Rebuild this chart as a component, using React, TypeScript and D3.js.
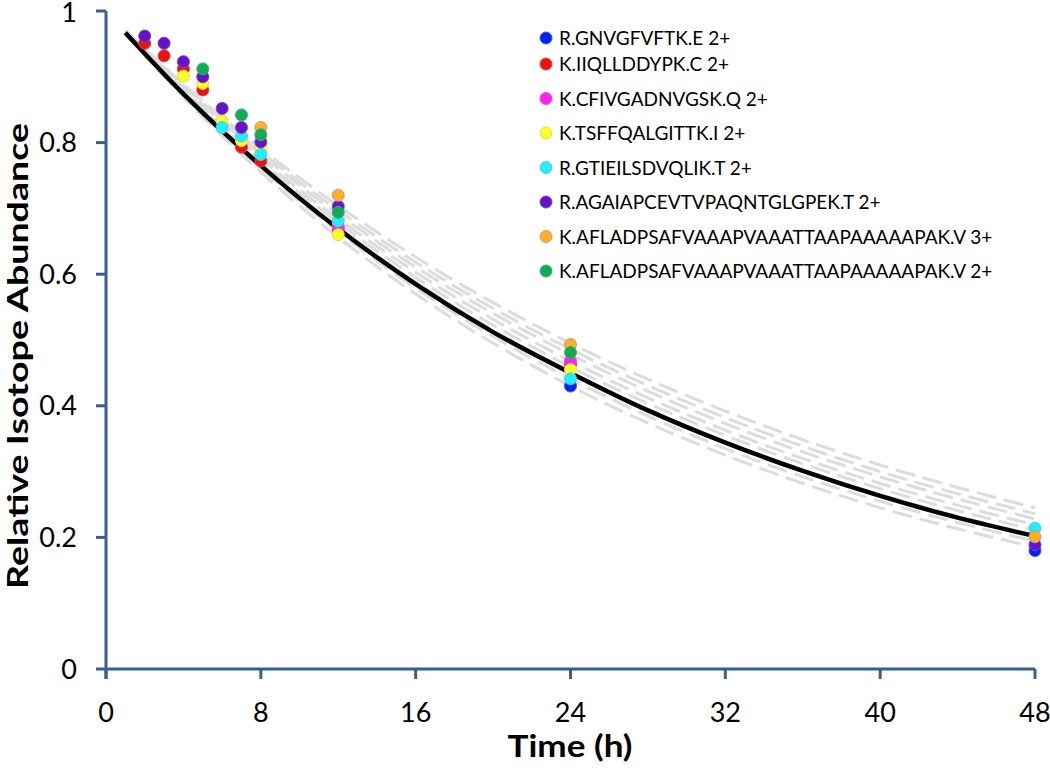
import React from "react";
import * as d3 from "d3";

// ---- data ----
const times = [2, 3, 4, 5, 6, 7, 8, 12, 24, 48];

const peptides = [
  "R.GNVGFVFTK.E 2+",
  "K.IIQLLDDYPK.C 2+",
  "K.CFIVGADNVGSK.Q 2+",
  "K.TSFFQALGITTK.I 2+",
  "R.GTIEILSDVQLIK.T 2+",
  "R.AGAIAPCEVTVPAQNTGLGPEK.T 2+",
  "K.AFLADPSAFVAAAPVAAATTAAPAAAAAPAK.V 3+",
  "K.AFLADPSAFVAAAPVAAATTAAPAAAAAPAK.V 2+",
];

const fillColors = ["#0022ee", "#ee1111", "#ff22ee", "#ffff22", "#22eeff", "#6611cc", "#ffb020", "#11aa55"];
const strokeColors = ["#4455dd", "#dd4444", "#dd55dd", "#dddd55", "#55ccdd", "#7744bb", "#c8969b", "#44aa77"];

// values at `times` (null = not visible)
const blueVals = [null, null, null, null, null, null, null, null, 0.43, 0.18];
const redVals = [0.951, 0.932, 0.912, 0.88, null, 0.793, 0.772, 0.668, 0.463, null];
const magentaVals = [null, null, null, null, null, null, null, 0.673, 0.468, null];
const yellowVals = [null, null, 0.901, 0.89, 0.833, 0.803, 0.793, 0.66, 0.455, null];
const cyanVals = [null, null, null, null, 0.823, 0.81, 0.782, 0.681, 0.441, 0.214];
const purpleVals = [0.962, 0.951, 0.923, 0.9, 0.852, 0.823, 0.801, 0.703, null, 0.189];
const orangeVals = [null, null, null, null, null, null, 0.823, 0.72, 0.493, 0.201];
const greenVals = [null, null, null, 0.912, null, 0.842, 0.812, 0.694, 0.481, null];
const seriesVals = [blueVals, redVals, magentaVals, yellowVals, cyanVals, purpleVals, orangeVals, greenVals];

// overall fitted curve
const fitTimes = [1, 4, 8, 12, 16, 20, 24, 28, 32, 36, 40, 44, 48];
const fitVals = [0.967, 0.874, 0.765, 0.669, 0.585, 0.512, 0.45, 0.393, 0.344, 0.301, 0.263, 0.23, 0.202];

// individual peptide fits (grey dashed)
const peptideFitTimes = [1, 4, 8, 12, 16, 24, 32, 40, 48];
const peptideFits = [
  [0.971, 0.889, 0.791, 0.704, 0.626, 0.495, 0.392, 0.31, 0.245],
  [0.97, 0.887, 0.786, 0.697, 0.618, 0.486, 0.382, 0.3, 0.236],
  [0.97, 0.884, 0.782, 0.691, 0.611, 0.478, 0.373, 0.292, 0.228],
  [0.969, 0.881, 0.776, 0.684, 0.603, 0.468, 0.363, 0.282, 0.219],
  [0.968, 0.878, 0.772, 0.678, 0.595, 0.459, 0.355, 0.274, 0.211],
  [0.967, 0.876, 0.767, 0.671, 0.588, 0.451, 0.345, 0.265, 0.203],
  [0.966, 0.872, 0.761, 0.664, 0.579, 0.441, 0.335, 0.255, 0.194],
  [0.965, 0.869, 0.755, 0.656, 0.57, 0.43, 0.325, 0.245, 0.185],
];

const xTicks = [0, 8, 16, 24, 32, 40, 48];
const yTicks = [0, 0.2, 0.4, 0.6, 0.8, 1];
const yTickLabels = ["0", "0.2", "0.4", "0.6", "0.8", "1"];

const AXIS = "#3a5f8f";
const FONT = "Lato, 'Open Sans', sans-serif";

export default function App() {
  const x = d3.scaleLinear().domain([0, 48]).range([106, 1035]);
  const y = d3.scaleLinear().domain([0, 1]).range([669, 11]);

  const line = d3
    .line<[number, number]>()
    .x((d) => x(d[0]))
    .y((d) => y(d[1]))
    .curve(d3.curveMonotoneX);

  const legendY = (i: number) => (i === 0 ? 38 : 64 + (i - 1) * 34.5);

  return (
    <div style={{ position: "absolute", left: 0, top: 0 }}>
      <svg width={1050} height={770} style={{ display: "block", background: "#fff" }}>
        {/* grey dashed individual fits */}
        {peptideFits.map((vals, i) => (
          <path
            key={"g" + i}
            d={line(peptideFitTimes.map((t, j) => [t, vals[j]]))!}
            fill="none"
            stroke="#dcdcdc"
            strokeWidth={3}
            strokeDasharray="20 8"
            strokeDashoffset={i * 5}
          />
        ))}
        {/* overall fit */}
        <path
          d={line(fitTimes.map((t, j) => [t, fitVals[j]]))!}
          fill="none"
          stroke="#000"
          strokeWidth={4.5}
        />
        {/* data points */}
        {seriesVals.map((vals, si) =>
          vals.map((v, j) =>
            v == null ? null : (
              <circle
                key={si + "-" + j}
                cx={x(times[j])}
                cy={y(v)}
                r={6}
                fill={fillColors[si]}
                stroke={strokeColors[si]}
                strokeWidth={1}
              />
            )
          )
        )}
        {/* axes */}
        <line x1={x(0)} x2={x(48)} y1={y(0)} y2={y(0)} stroke={AXIS} strokeWidth={3} />
        <line x1={x(0)} x2={x(0)} y1={y(0) + 10} y2={y(1)} stroke={AXIS} strokeWidth={3} />
        {xTicks.map((t) => (
          <g key={"xt" + t}>
            <line x1={x(t)} x2={x(t)} y1={y(0)} y2={y(0) + 10} stroke={AXIS} strokeWidth={3} />
            <text x={x(t)} y={722} textAnchor="middle" fontFamily={FONT} fontSize={27} fill="#000">
              {t}
            </text>
          </g>
        ))}
        {yTicks.map((t, i) => (
          <g key={"yt" + t}>
            <line x1={x(0) - 10} x2={x(0)} y1={y(t)} y2={y(t)} stroke={AXIS} strokeWidth={3} />
            <text x={77} y={Math.max(y(t) + 9.5, 22)} textAnchor="end" fontFamily={FONT} fontSize={27} fill="#000">
              {yTickLabels[i]}
            </text>
          </g>
        ))}
        {/* titles */}
        <text
          x={570}
          y={757}
          textAnchor="middle"
          fontFamily={FONT}
          fontWeight="bold"
          fontSize={30}
          textLength={125}
          lengthAdjust="spacingAndGlyphs"
        >
          Time (h)
        </text>
        <text
          transform="translate(28,356) rotate(-90)"
          textAnchor="middle"
          fontFamily={FONT}
          fontWeight="bold"
          fontSize={28}
          textLength={466}
          lengthAdjust="spacingAndGlyphs"
        >
          Relative Isotope Abundance
        </text>
        {/* legend */}
        {peptides.map((p, i) => (
          <g key={"lg" + i}>
            <circle
              cx={546}
              cy={legendY(i)}
              r={6}
              fill={fillColors[i]}
              stroke={strokeColors[i]}
              strokeWidth={1}
            />
            <text x={559} y={legendY(i) + 7} fontFamily={FONT} fontSize={19} fill="#000">
              {p}
            </text>
          </g>
        ))}
      </svg>
    </div>
  );
}
